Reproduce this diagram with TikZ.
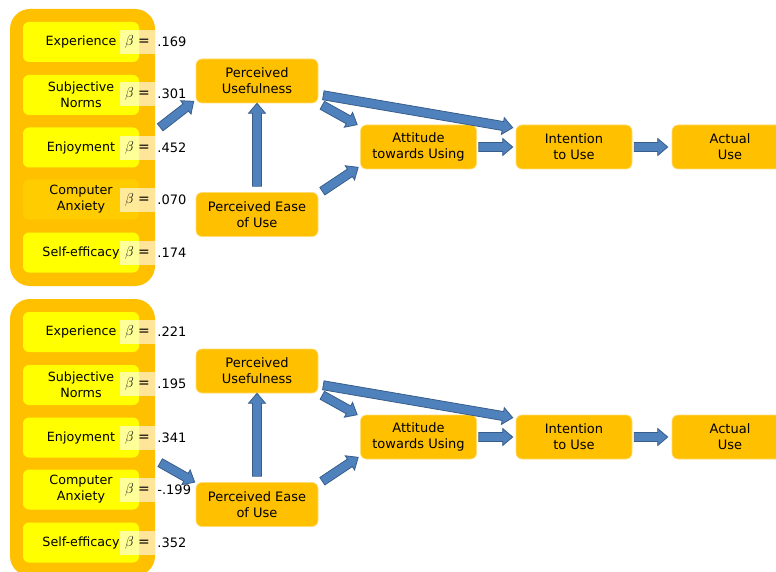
\documentclass[tikz,border=0pt]{standalone}
\usepackage{fontspec}
\setmainfont{DejaVu Sans}
\usetikzlibrary{calc, positioning}

\definecolor{gold}{HTML}{FFC000}
\definecolor{brightyellow}{HTML}{FFFF00}
\definecolor{dimyellow}{HTML}{FFCC00}
\definecolor{arrowfill}{HTML}{4F81BD}
\definecolor{arrowedge}{HTML}{385D8A}

\tikzset{
    factorgroup/.style={fill=gold, rounded corners=20, minimum width=145, minimum height=277},
    construct/.style={fill=gold, draw=gold!55!white, line width=0.6pt, rounded corners=6,
        minimum width=122, minimum height=44, align=center, font=\fontsize{13}{16}\selectfont},
    factor/.style={fill=brightyellow, rounded corners=6, minimum width=116, minimum height=40,
        align=center, font=\fontsize{12.7}{16}\selectfont},
    betabox/.style={fill=white, fill opacity=0.6, text opacity=1, minimum width=35,
        minimum height=24, inner sep=0pt, font=\fontsize{14}{16}\selectfont},
    coef/.style={anchor=west, inner sep=2pt, font=\fontsize{13}{15}\selectfont},
    blockarrow/.style={fill=arrowfill, draw=arrowedge, line width=0.8pt, line join=miter}
}

\newcommand{\blockarrow}[2]{%
    \filldraw[blockarrow] ($(#1)!4.5pt!90:(#2)$)
        -- ($(#2)!10pt!(#1)!4.5pt!-90:(#1)$)
        -- ($(#2)!10pt!(#1)!8.5pt!-90:(#1)$)
        -- (#2)
        -- ($(#2)!10pt!(#1)!8.5pt!90:(#1)$)
        -- ($(#2)!10pt!(#1)!4.5pt!90:(#1)$)
        -- ($(#1)!4.5pt!-90:(#2)$) -- cycle;}

\begin{document}
\begin{tikzpicture}[x=1pt, y=-1pt]
\useasboundingbox (0,0) rectangle (776,572);
\clip (0,0) rectangle (776,572);

% first model
\node[factorgroup] (grp) at (82.5,147.5) {};
\node[factor] (exp) at (81,42) {Experience};
\node[factor] (sn) at (81,95) {Subjective\\Norms};
\node[factor] (enj) at (81,147.5) {Enjoyment};
\node[factor, fill=dimyellow] (ca) at (81,199.5) {Computer\\Anxiety};
\node[factor] (se) at (81,252.5) {Self-efficacy};

\node[betabox] (bexp) at (137.5,42) {$\beta$ =};
\node[betabox] (bsn) at (137.5,94) {$\beta$ =};
\node[betabox] (benj) at (137.5,148) {$\beta$ =};
\node[betabox] (bca) at (137.5,200) {$\beta$ =};
\node[betabox] (bse) at (137.5,253) {$\beta$ =};
\node[coef] (vexp) at (bexp.east) {.169};
\node[coef] (vsn) at (bsn.east) {.301};
\node[coef] (venj) at (benj.east) {.452};
\node[coef] (vca) at (bca.east) {.070};
\node[coef] (vse) at (bse.east) {.174};

\node[construct] (pu) at (257,81) {Perceived\\Usefulness};
\node[construct] (peou) at (257,214.5) {Perceived Ease\\of Use};
\node[construct, minimum width=116] (att) at (418.5,147) {Attitude\\towards Using};
\node[construct, minimum width=116] (itu) at (574,147) {Intention\\to Use};
\node[construct, minimum width=116] (use) at (730,147) {Actual\\Use};

\coordinate (s1) at ($(grp.east |- enj.north)+(5,0)$);
\coordinate (t1) at ($(pu.south west)+(-2,-2)$);
\coordinate (s2) at ($(peou.north)+(0,-6)$);
\coordinate (s3) at ($(pu.south east)+(4,2)$);
\coordinate (t3) at ($(att.north west)+(-3,0)$);
\coordinate (s4) at ($(pu.south east)+(5,-8)$);
\coordinate (t4) at ($(itu.north west)+(-3,3)$);
\coordinate (s5) at ($(peou.north east)+(4,-1)$);
\coordinate (t5) at ($(att.south west)+(-2,-2)$);
\coordinate (s6) at ($(att.east)+(2,0)$);
\coordinate (t6) at ($(itu.west)+(-3,0)$);
\coordinate (s7) at ($(itu.east)+(2,0)$);
\coordinate (t7) at ($(use.west)+(-4,0)$);
\blockarrow{s1}{t1}
\blockarrow{s2}{pu.south}
\blockarrow{s3}{t3}
\blockarrow{s4}{t4}
\blockarrow{s5}{t5}
\blockarrow{s6}{t6}
\blockarrow{s7}{t7}

% second model
\node[factorgroup] (grpb) at (82.5,437.5) {};
\node[factor] (expb) at (81,332) {Experience};
\node[factor] (snb) at (81,385) {Subjective\\Norms};
\node[factor] (enjb) at (81,437.5) {Enjoyment};
\node[factor] (cab) at (81,489.5) {Computer\\Anxiety};
\node[factor] (seb) at (81,542.5) {Self-efficacy};

\node[betabox] (bexpb) at (137.5,332) {$\beta$ =};
\node[betabox] (bsnb) at (137.5,384) {$\beta$ =};
\node[betabox] (benjb) at (137.5,438) {$\beta$ =};
\node[betabox] (bcab) at (137.5,490) {$\beta$ =};
\node[betabox] (bseb) at (137.5,543) {$\beta$ =};
\node[coef] (vexpb) at (bexpb.east) {.221};
\node[coef] (vsnb) at (bsnb.east) {.195};
\node[coef] (venjb) at (benjb.east) {.341};
\node[coef] (vcab) at (bcab.east) {-.199};
\node[coef] (vseb) at (bseb.east) {.352};

\node[construct] (pub) at (257,371) {Perceived\\Usefulness};
\node[construct] (peoub) at (257,504.5) {Perceived Ease\\of Use};
\node[construct, minimum width=116] (attb) at (418.5,437) {Attitude\\towards Using};
\node[construct, minimum width=116] (itub) at (574,437) {Intention\\to Use};
\node[construct, minimum width=116] (useb) at (730,437) {Actual\\Use};

\coordinate (s1b) at ($(grpb.east |- enjb.south)+(5,5)$);
\coordinate (t1b) at ($(peoub.north west)+(-1,0)$);
\coordinate (s2b) at ($(peoub.north)+(0,-6)$);
\coordinate (s3b) at ($(pub.south east)+(4,2)$);
\coordinate (t3b) at ($(attb.north west)+(-3,0)$);
\coordinate (s4b) at ($(pub.south east)+(5,-8)$);
\coordinate (t4b) at ($(itub.north west)+(-3,3)$);
\coordinate (s5b) at ($(peoub.north east)+(4,-1)$);
\coordinate (t5b) at ($(attb.south west)+(-2,-2)$);
\coordinate (s6b) at ($(attb.east)+(2,0)$);
\coordinate (t6b) at ($(itub.west)+(-3,0)$);
\coordinate (s7b) at ($(itub.east)+(2,0)$);
\coordinate (t7b) at ($(useb.west)+(-4,0)$);
\blockarrow{s1b}{t1b}
\blockarrow{s2b}{pub.south}
\blockarrow{s3b}{t3b}
\blockarrow{s4b}{t4b}
\blockarrow{s5b}{t5b}
\blockarrow{s6b}{t6b}
\blockarrow{s7b}{t7b}
\end{tikzpicture}
\end{document}
